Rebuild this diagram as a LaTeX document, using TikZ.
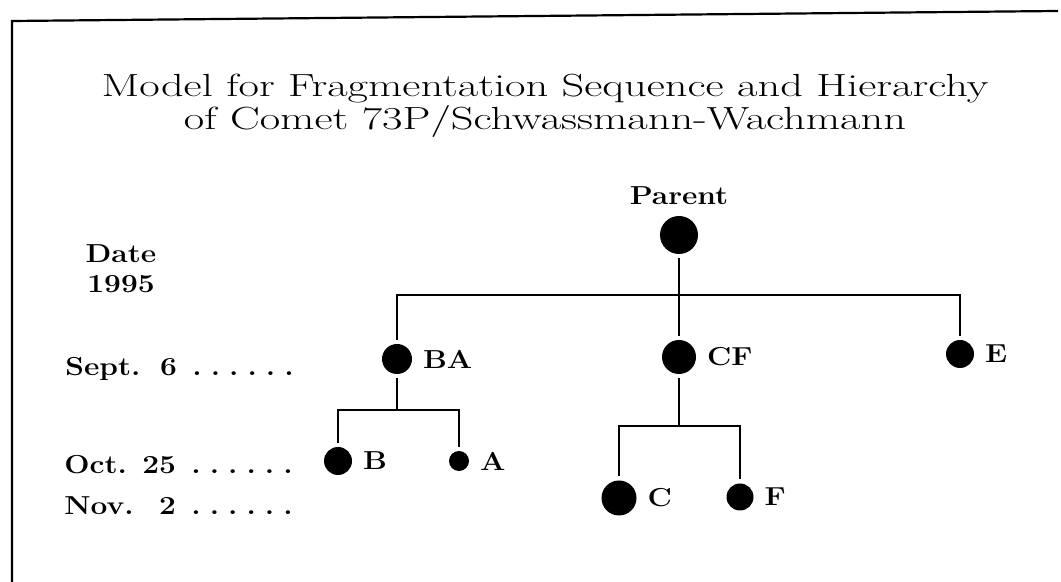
\documentclass[tikz,border=0pt]{standalone}
\usepackage{tikz}
\usepackage{graphicx}

% wide type, as in the scan
\newcommand{\titletext}[1]{\scalebox{1.39}[1]{#1}}
\newcommand{\labtext}[1]{\scalebox{1.15}[1]{#1}}
\newcommand{\dotrow}{\cleaders\hbox to 8pt{\hss.\hss}\hskip 48.5pt}
\newcommand{\daterow}[2]{\labtext{\makebox[35pt][l]{#1}\makebox[13.5pt][r]{#2}\hspace{4.5pt}\dotrow}}

\tikzset{
	frag/.style={circle, fill=black, inner sep=0pt, outer sep=2pt},
	branch/.style={line width=1.4pt},
	lab/.style={font=\fontsize{13}{15}\selectfont\bfseries},
	every label/.style={lab}
}

\begin{document}
\begin{tikzpicture}[x=0.5pt,y=-0.5pt]
	\useasboundingbox (0,0) rectangle (1061,582);
	
	% Frame
	\draw[line width=1.1pt] (1058,11) -- (12,21) -- (12,582);
	
	% Title
	\node[align=center, anchor=north, inner sep=0pt, font={\fontsize{16}{16.2}\selectfont}] (title) at (545,74)
		{\titletext{Model for Fragmentation Sequence and Hierarchy}\\\titletext{of Comet 73P/Schwassmann-Wachmann}};
	
	% Dates
	\node[lab, align=center, anchor=north, inner sep=0pt] (date) at (121,244) {\labtext{Date}\\\labtext{1995}};
	\node[lab, anchor=base west, inner sep=0pt] (sept) at (65,376) {\daterow{Sept.}{6}};
	\node[lab, anchor=base west, inner sep=0pt] (oct) at (64,474) {\daterow{Oct.}{25}};
	\node[lab, anchor=base west, inner sep=0pt] (nov) at (64,515) {\daterow{Nov.}{2}};
	
	% Draw nodes
	\node[frag, minimum size=19pt, label={above:\labtext{Parent}}] (Parent) at (679,235) {};
	\node[frag, minimum size=15pt, label={right:\labtext{BA}}] (BA) at (397,359) {};
	\node[frag, minimum size=17pt, label={right:\labtext{CF}}] (CF) at (679,357) {};
	\node[frag, minimum size=14pt, label={right:\labtext{E}}] (E) at (960,354) {};
	\node[frag, minimum size=14pt, label={right:\labtext{B}}] (B) at (338,461) {};
	\node[frag, minimum size=10pt, label={right:\labtext{A}}] (A) at (459,461) {};
	\node[frag, minimum size=17.5pt, label={right:\labtext{C}}] (C) at (619,498) {};
	\node[frag, minimum size=13.5pt, label={right:\labtext{F}}] (F) at (740,497) {};
	
	\coordinate (fork1) at (679,295);
	\coordinate (fork2) at (397,410);
	\coordinate (fork3) at (679,426);
	
	% Draw branches
	\draw[branch] (Parent) -- (fork1);
	\draw[branch] (BA) |- (fork1) -| (E);
	\draw[branch] (CF) -- (fork1);
	\draw[branch] (BA) -- (fork2);
	\draw[branch] (B) |- (fork2) -| (A);
	\draw[branch] (CF) -- (fork3);
	\draw[branch] (C) |- (fork3) -| (F);
	
\end{tikzpicture}
\end{document}
